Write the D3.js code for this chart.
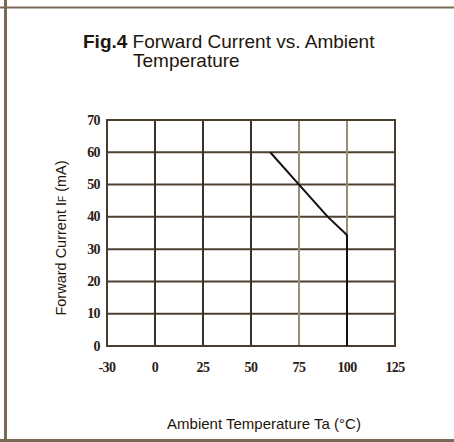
<!DOCTYPE html>
<html>
<head>
<meta charset="utf-8">
<script src="https://cdn.jsdelivr.net/npm/d3@7"></script>
<style>
  body { margin: 0; background: #fff; }
  svg { display: block; }
</style>
</head>
<body>
<div id="chart"></div>
<script>
// data (the flat 60 mA part sits on the grid line)
var xTicks = [-30, 0, 25, 50, 75, 100, 125];
var yTicks = [0, 10, 20, 30, 40, 50, 60, 70];
var curveTemp = [60, 75, 90, 97.5, 100, 100];
var curveCurrent = [60, 50, 40, 35.8, 34.3, 0];

var w = 454, h = 442;
var svg = d3.select("#chart").append("svg").attr("width", w).attr("height", h);

// outer page frame
var frameColor = "#7a6a55";
svg.append("line").attr("x1", 0).attr("x2", w).attr("y1", 7.5).attr("y2", 7.5)
  .attr("stroke", frameColor).attr("stroke-width", 2);
svg.append("line").attr("x1", 0).attr("x2", w).attr("y1", 440.5).attr("y2", 440.5)
  .attr("stroke", frameColor).attr("stroke-width", 3);
svg.append("line").attr("x1", 5.5).attr("x2", 5.5).attr("y1", 0).attr("y2", h)
  .attr("stroke", frameColor).attr("stroke-width", 3);

// title
var sans = "Liberation Sans, Arial, sans-serif";
var title = svg.append("text").attr("x", 83).attr("y", 48)
  .attr("font-family", sans)
  .attr("font-size", "19px").attr("fill", "#1e160c");
title.append("tspan").attr("font-weight", "bold").text("Fig.4");
title.append("tspan").text(" Forward Current vs. Ambient");
svg.append("text").attr("x", 133).attr("y", 67)
  .attr("font-family", sans)
  .attr("font-size", "19px").attr("fill", "#1e160c")
  .text("Temperature");

// scales: the x ticks are evenly spaced although -30..0 is a 30 degree step
var xScale = d3.scaleLinear().domain([-30, 0, 125]).range([107, 155, 395]);
var yScale = d3.scaleLinear().domain([0, 70]).range([346, 120]);

var g = svg.append("g");

// horizontal grid
g.selectAll("line.hgrid")
  .data(yTicks)
  .enter()
  .append("line")
  .attr("class", "hgrid")
  .attr("x1", xScale(-30)).attr("x2", xScale(125))
  .attr("y1", function(d) { return yScale(d); })
  .attr("y2", function(d) { return yScale(d); })
  .attr("stroke", "#4f4130")
  .attr("stroke-width", 2);

// vertical grid
g.selectAll("line.vgrid")
  .data(xTicks)
  .enter()
  .append("line")
  .attr("class", "vgrid")
  .attr("y1", yScale(0)).attr("y2", yScale(70))
  .attr("x1", function(d) { return xScale(d); })
  .attr("x2", function(d) { return xScale(d); })
  .attr("stroke", function(d) { return (d == 75 || d == 100) ? "#9c8c76" : "#3b3124"; })
  .attr("stroke-width", 2);

// frame
g.append("rect")
  .attr("x", xScale(-30)).attr("y", yScale(70))
  .attr("width", xScale(125) - xScale(-30))
  .attr("height", yScale(0) - yScale(70))
  .attr("fill", "none").attr("stroke", "#4a3d2c").attr("stroke-width", 2);

// derating curve
var pts = curveTemp.map(function(t, i) { return [t, curveCurrent[i]]; });
var line = d3.line()
  .x(function(d) { return xScale(d[0]); })
  .y(function(d) { return yScale(d[1]); });
g.append("path")
  .datum(pts)
  .attr("d", line)
  .attr("fill", "none")
  .attr("stroke", "#111")
  .attr("stroke-width", 2)
  .attr("stroke-linejoin", "round");

// tick labels
var tickFont = "Liberation Serif, Times New Roman, serif";
svg.selectAll("text.ytick")
  .data(yTicks)
  .enter()
  .append("text")
  .attr("class", "ytick")
  .text(function(d) { return d; })
  .attr("x", 100)
  .attr("y", function(d) { return yScale(d) + 4.5; })
  .attr("text-anchor", "end")
  .attr("font-family", tickFont)
  .attr("font-weight", "bold")
  .attr("font-size", "14px")
  .attr("letter-spacing", "-0.6")
  .attr("fill", "#2a2016");

svg.selectAll("text.xtick")
  .data(xTicks)
  .enter()
  .append("text")
  .attr("class", "xtick")
  .text(function(d) { return d; })
  .attr("x", function(d) { return xScale(d); })
  .attr("y", 371.5)
  .attr("text-anchor", "middle")
  .attr("font-family", tickFont)
  .attr("font-weight", "bold")
  .attr("font-size", "14px")
  .attr("letter-spacing", "-0.6")
  .attr("fill", "#2a2016");

// axis titles
var yTitle = svg.append("text")
  .attr("transform", "translate(66,238) rotate(-90)")
  .attr("text-anchor", "middle")
  .attr("font-family", sans)
  .attr("font-size", "14.5px")
  .attr("fill", "#1e160c");
yTitle.append("tspan").text("Forward Current I");
yTitle.append("tspan").attr("font-size", "10px").text("F");
yTitle.append("tspan").text(" (mA)");

svg.append("text")
  .attr("x", 264).attr("y", 429)
  .attr("text-anchor", "middle")
  .attr("font-family", sans)
  .attr("font-size", "15px")
  .attr("fill", "#1e160c")
  .text("Ambient Temperature Ta (\u00b0C)");
</script>
</body>
</html>
